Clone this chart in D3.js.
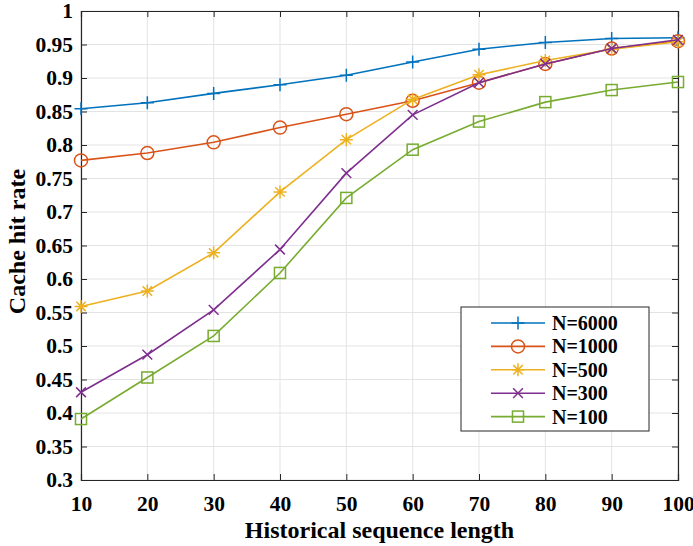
<!DOCTYPE html>
<html>
<head>
<meta charset="utf-8">
<script src="https://cdn.jsdelivr.net/npm/d3@7"></script>
<style>
  body { margin: 0; background: #fff; }
  svg text { font-family: "Liberation Serif", "Times New Roman", serif; font-weight: bold; fill: #000; }
</style>
</head>
<body>
<div id="chart"></div>
<script>
// data
const seqLengths = [10, 20, 30, 40, 50, 60, 70, 80, 90, 100];
const seriesNames = ["N=6000", "N=1000", "N=500", "N=300", "N=100"];
const hit6000 = [0.854, 0.863, 0.877, 0.890, 0.904, 0.924, 0.943, 0.953, 0.959, 0.960];
const hit1000 = [0.777, 0.788, 0.804, 0.826, 0.846, 0.866, 0.893, 0.921, 0.944, 0.955];
const hit500  = [0.559, 0.582, 0.639, 0.730, 0.808, 0.868, 0.905, 0.926, 0.943, 0.954];
const hit300  = [0.431, 0.487, 0.554, 0.644, 0.758, 0.845, 0.893, 0.921, 0.944, 0.957];
const hit100  = [0.391, 0.453, 0.515, 0.609, 0.721, 0.793, 0.835, 0.864, 0.882, 0.894];
const yTicks = [0.3, 0.35, 0.4, 0.45, 0.5, 0.55, 0.6, 0.65, 0.7, 0.75, 0.8, 0.85, 0.9, 0.95, 1];

const seriesValues = [hit6000, hit1000, hit500, hit300, hit100];
const colors = ["#0072BD", "#D95319", "#EDB120", "#7E2F8E", "#77AC30"];
const markers = ["plus", "circle", "star", "cross", "square"];

const W = 693, H = 546;
const margin = { top: 11, right: 15, bottom: 66, left: 81 };
const width = W - margin.left - margin.right;
const height = H - margin.top - margin.bottom;

const svg = d3.select("#chart").append("svg")
    .attr("width", W).attr("height", H);
const g = svg.append("g")
    .attr("transform", `translate(${margin.left},${margin.top})`);

const x = d3.scaleLinear().domain([10, 100]).range([0, width]);
const y = d3.scaleLinear().domain([0.3, 1]).range([height, 0]);

// grid
g.append("g").selectAll("line").data(seqLengths).enter().append("line")
    .attr("x1", d => x(d)).attr("x2", d => x(d))
    .attr("y1", 0).attr("y2", height)
    .attr("stroke", "#e3e3e3").attr("stroke-width", 1);
g.append("g").selectAll("line").data(yTicks).enter().append("line")
    .attr("x1", 0).attr("x2", width)
    .attr("y1", d => y(d)).attr("y2", d => y(d))
    .attr("stroke", "#e3e3e3").attr("stroke-width", 1);

// axes
const fmt = d => d3.format("~g")(d);
g.append("g").attr("transform", `translate(0,${height})`)
    .call(d3.axisBottom(x).tickValues(seqLengths).tickSize(-6).tickPadding(16).tickFormat(fmt));
g.append("g")
    .call(d3.axisLeft(y).tickValues(yTicks).tickSize(-6).tickPadding(8).tickFormat(fmt));
g.append("g")
    .call(d3.axisTop(x).tickValues(seqLengths).tickSize(-6).tickFormat(""));
g.append("g").attr("transform", `translate(${width},0)`)
    .call(d3.axisRight(y).tickValues(yTicks).tickSize(-6).tickFormat(""));
g.selectAll(".domain").attr("stroke", "#262626").attr("stroke-width", 1.2);
g.selectAll(".tick line").attr("stroke", "#262626");
g.selectAll(".tick text").style("font-size", "21.5px").attr("fill", "#000");

// lines
const line = d3.line().x((d, i) => x(seqLengths[i])).y(d => y(d));

function drawMarker(sel, type, color, s) {
    if (type === "plus") {
        sel.append("path").attr("d", `M${-s},0H${s}M0,${-s}V${s}`)
            .attr("stroke", color).attr("stroke-width", 1.5).attr("fill", "none");
    } else if (type === "circle") {
        sel.append("circle").attr("r", s)
            .attr("stroke", color).attr("stroke-width", 1.5).attr("fill", "none");
    } else if (type === "star") {
        const d = s * 0.72;
        sel.append("path").attr("d", `M${-s},0H${s}M0,${-s}V${s}M${-d},${-d}L${d},${d}M${-d},${d}L${d},${-d}`)
            .attr("stroke", color).attr("stroke-width", 1.5).attr("fill", "none");
    } else if (type === "cross") {
        const d = s * 0.75;
        sel.append("path").attr("d", `M${-d},${-d}L${d},${d}M${-d},${d}L${d},${-d}`)
            .attr("stroke", color).attr("stroke-width", 1.5).attr("fill", "none");
    } else if (type === "square") {
        const d = s * 0.85;
        sel.append("rect").attr("x", -d).attr("y", -d).attr("width", 2 * d).attr("height", 2 * d)
            .attr("stroke", color).attr("stroke-width", 1.5).attr("fill", "none");
    }
}

seriesValues.forEach((vals, k) => {
    g.append("path").datum(vals)
        .attr("d", line)
        .attr("fill", "none")
        .attr("stroke", colors[k])
        .attr("stroke-width", 1.6);
    vals.forEach((v, i) => {
        const m = g.append("g").attr("transform", `translate(${x(seqLengths[i])},${y(v)})`);
        drawMarker(m, markers[k], colors[k], 6.5);
    });
});

// axis labels
svg.append("text")
    .attr("x", margin.left + width / 2)
    .attr("y", 538)
    .attr("text-anchor", "middle")
    .style("font-size", "24px")
    .text("Historical sequence length");

svg.append("text")
    .attr("transform", `translate(25,${margin.top + height / 2 - 4}) rotate(-90)`)
    .attr("text-anchor", "middle")
    .style("font-size", "24px")
    .text("Cache hit rate");

// legend
const legend = svg.append("g").attr("transform", "translate(461,307)");
legend.append("rect")
    .attr("width", 188).attr("height", 124)
    .attr("fill", "#fff").attr("stroke", "#262626").attr("stroke-width", 1);
seriesNames.forEach((name, k) => {
    const row = legend.append("g").attr("transform", `translate(0,${16 + k * 23.4})`);
    row.append("line").attr("x1", 30).attr("x2", 84).attr("y1", 0).attr("y2", 0)
        .attr("stroke", colors[k]).attr("stroke-width", 1.6);
    drawMarker(row.append("g").attr("transform", "translate(57,0)"), markers[k], colors[k], 6.5);
    row.append("text").attr("x", 91).attr("y", 7)
        .style("font-size", "20px").text(name);
});
</script>
</body>
</html>
